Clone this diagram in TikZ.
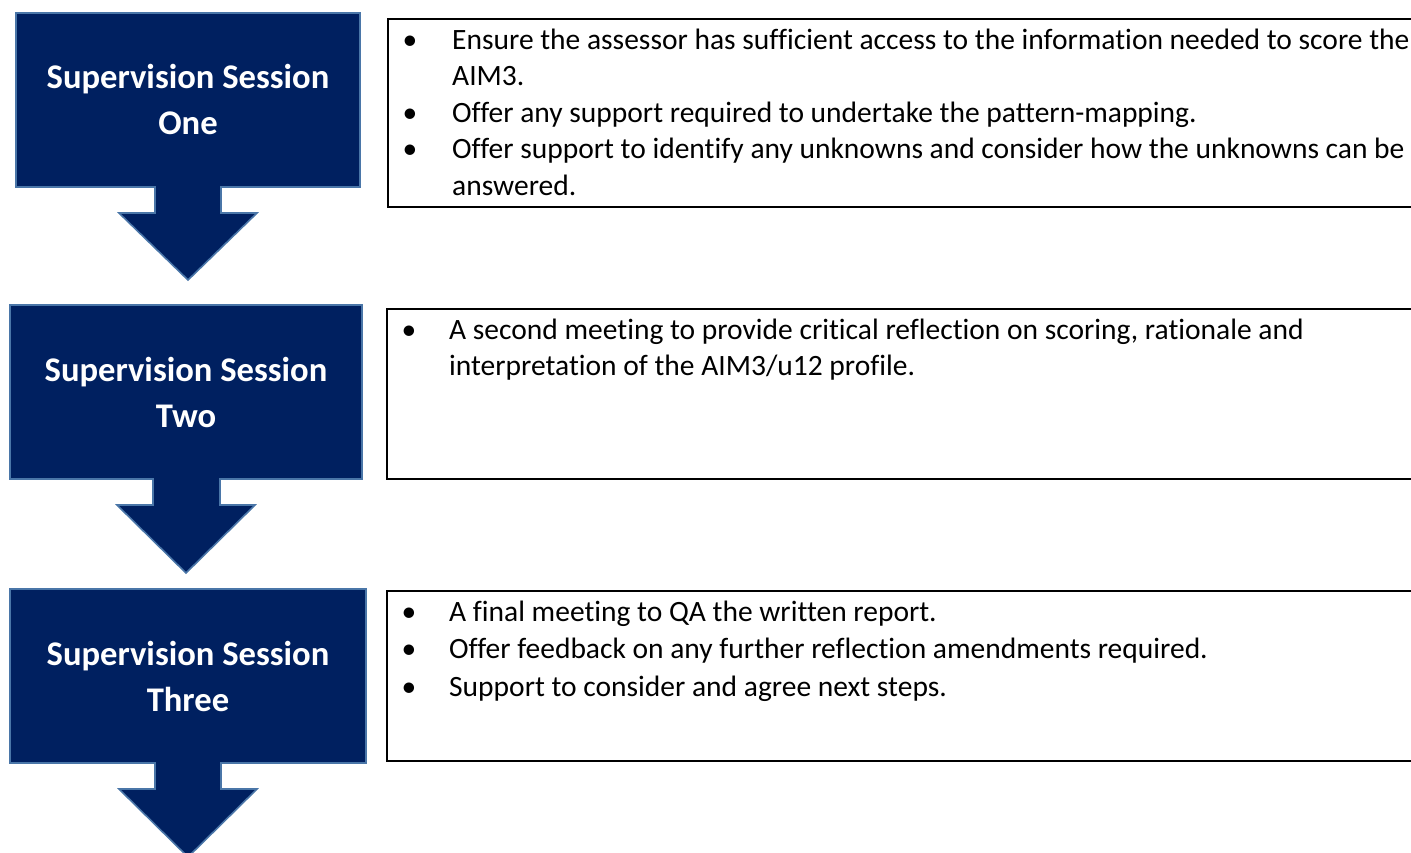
\documentclass[tikz,border=0pt]{standalone}
\usepackage{fontspec}
\setmainfont{Carlito}[Ligatures=CommonOff]
\begin{document}
\begin{tikzpicture}[x=1pt,y=-1pt,
  flowshape/.style={fill=navy,draw=edgeblue,line width=1.6pt,line join=miter},
  notebox/.style={draw=black,line width=1.6pt},
  title/.style={text=white,font=\fontsize{34.6}{46}\selectfont\bfseries,align=center,inner sep=0pt},
  bul/.style={anchor=base,inner sep=0pt,font=\fontsize{29.5}{36}\selectfont},
  line/.style={anchor=base west,inner sep=0pt,font=\fontsize{29.5}{36}\selectfont}]
\definecolor{navy}{HTML}{002060}
\definecolor{edgeblue}{HTML}{4A76A8}
\useasboundingbox (0,0) rectangle (1411,852);
% shapes
\draw[flowshape] (16,13) -- (360,13) -- (360,187) -- (221,187) -- (221,213) -- (257,213) -- (188,280) -- (119,213) -- (155,213) -- (155,187) -- (16,187) -- cycle;
\draw[flowshape] (10,305) -- (362,305) -- (362,479) -- (220,479) -- (220,505) -- (255,505) -- (186,573) -- (117,505) -- (153,505) -- (153,479) -- (10,479) -- cycle;
\draw[flowshape] (10,589) -- (366,589) -- (366,763) -- (221,763) -- (221,789) -- (257,789) -- (188,857) -- (119,789) -- (155,789) -- (155,763) -- (10,763) -- cycle;
\node[title] (t1) at (188,99) {Supervision Session\\One};
\node[title] (t2) at (186,392) {Supervision Session\\Two};
\node[title] (t3) at (188,676) {Supervision Session\\Three};
% note boxes
\draw[notebox] (388,19) rectangle (1414,207);
\draw[notebox] (387,309) rectangle (1414,479);
\draw[notebox] (387,591) rectangle (1414,761);
% box 1 text
\node[bul] (b11) at (410,49) {•};
\node[line] (l11) at (452,49) {Ensure the assessor has sufficient access to the information needed to score the};
\node[line] (l12) at (452,85.5) {AIM3.};
\node[bul] (b12) at (410,122) {•};
\node[line] (l13) at (452,122) {Offer any support required to undertake the pattern-mapping.};
\node[bul] (b13) at (410,158.5) {•};
\node[line] (l14) at (452,158.5) {Offer support to identify any unknowns and consider how the unknowns can be};
\node[line] (l15) at (452,195) {answered.};
% box 2 text
\node[bul] (b21) at (409,339) {•};
\node[line] (l21) at (449,339) {A second meeting to provide critical reflection on scoring, rationale and};
\node[line] (l22) at (449,375) {interpretation of the AIM3/u12 profile.};
% box 3 text
\node[bul] (b31) at (409,621) {•};
\node[line] (l31) at (449,621) {A final meeting to QA the written report.};
\node[bul] (b32) at (409,658) {•};
\node[line] (l32) at (449,658) {Offer feedback on any further reflection amendments required.};
\node[bul] (b33) at (409,696) {•};
\node[line] (l33) at (449,696) {Support to consider and agree next steps.};
\end{tikzpicture}
\end{document}
